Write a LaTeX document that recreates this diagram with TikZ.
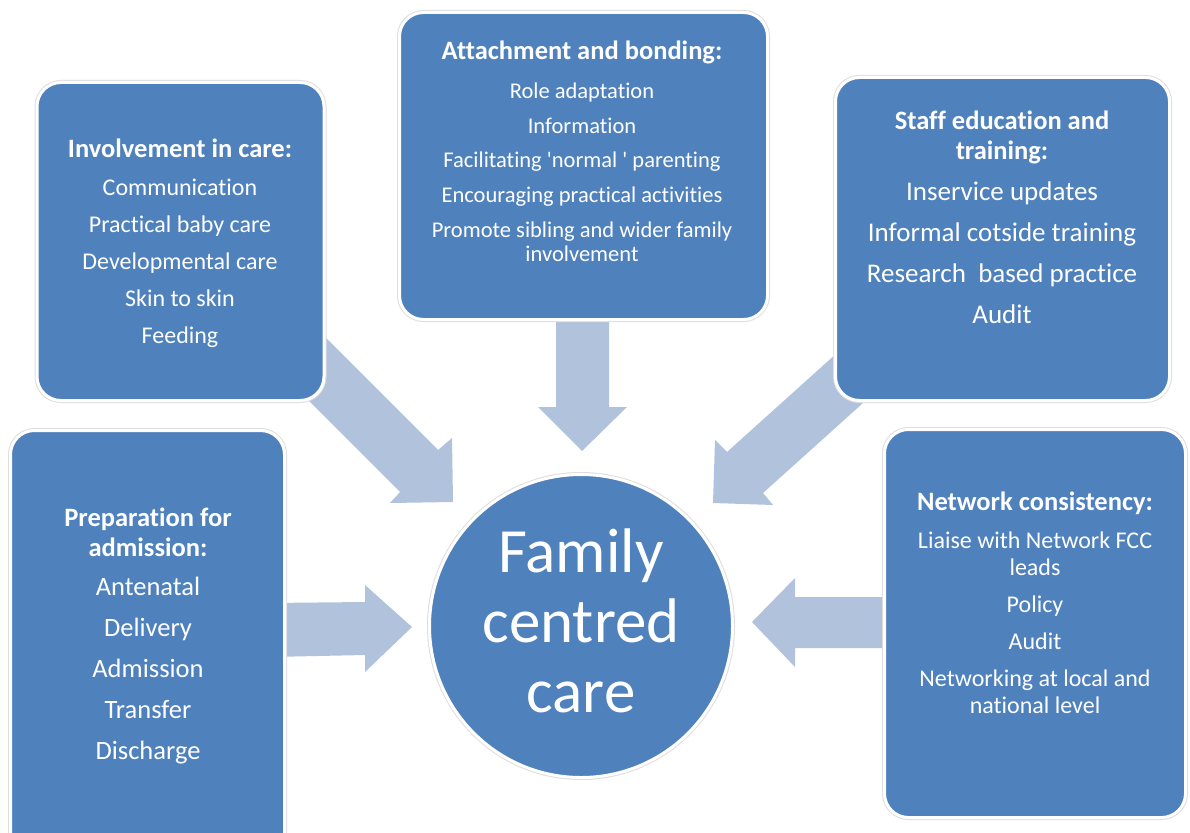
\documentclass[tikz,border=0pt]{standalone}
\usepackage{fontspec}
\setmainfont[Ligatures={TeX,NoCommon}]{Carlito}
\usepackage{tikz}
\definecolor{panelblue}{HTML}{4F81BD}
\definecolor{arrowblue}{HTML}{B1C2DD}

\begin{document}
\begin{tikzpicture}
  [x=1pt, y=-1pt,
   panel/.style={fill=panelblue, draw=white, line width=3pt, rounded corners=24pt,
     inner sep=0pt, preaction={draw=black!13, line width=5pt}},
   blockarrow/.style={fill=arrowblue, draw=none},
   title/.style={text=white, align=center, font=\bfseries\fontsize{#1}{30}\selectfont},
   items/.style 2 args={text=white, align=center, font=\fontsize{#1}{#2}\selectfont}]
  \useasboundingbox (0,0) rectangle (1190,832);
  \fill[white] (0,0) rectangle (1190,832);

  \fill[blockarrow] (308,320) -- (438,450) -- (452,438) -- (453,502) -- (390,503) -- (400,492) -- (270,362) -- cycle;
  \fill[blockarrow] (556,300) -- (556,407) -- (538,407) -- (582,451) -- (627,407) -- (609,407) -- (609,300) -- cycle;
  \fill[blockarrow] (857,335) -- (727,452) -- (715,440) -- (713,503) -- (773,505) -- (763,493) -- (893,376) -- cycle;
  \fill[blockarrow] (270,603) -- (365,602) -- (365,585) -- (412,627) -- (365,672) -- (365,655) -- (270,657) -- cycle;
  \fill[blockarrow] (900,597) -- (795,597) -- (795,578) -- (752,622) -- (795,667) -- (795,648) -- (900,648) -- cycle;

  \begin{scope}
    \clip (0,0) rectangle (1190,832);
    \node[panel, minimum width=287pt, minimum height=318pt] (involvement) at (180.5,241.5) {};
    \node[panel, minimum width=368pt, minimum height=307pt] (attachment) at (583.5,166) {};
    \node[panel, minimum width=334pt, minimum height=323pt] (staff) at (1002.5,239) {};
    \node[panel, minimum width=301pt, minimum height=388pt] (network) at (1035,623.5) {};
    \node[panel, minimum width=274pt, minimum height=427pt] (preparation) at (147.5,644) {};
    \node[panel, circle, minimum size=303pt] (fcc) at (581,626) {};
  \end{scope}
  \node[items={63}{70}] (fcctext) at (581,620.5) {Family\\centred\\care};

  \node[title=26.5] (involvementtitle) at (180,148) {Involvement in care:};
  \node[items={24}{29}] (involvementitems) at (180,263)
    {Communication\\[8pt] Practical baby care\\[8pt] Developmental care\\[8pt] Skin to skin\\[8pt] Feeding};

  \node[title=26.5] (attachmenttitle) at (582,52) {Attachment and bonding:};
  \node[items={22.5}{24}] (attachmentitems) at (582,172)
    {Role adaptation\\[11pt] Information\\[10pt] Facilitating \textquotesingle normal \textquotesingle{} parenting\\[11pt]
     Encouraging practical activities\\[11pt] Promote sibling and wider family\\ involvement};

  \node[title=26.5] (stafftitle) at (1002,137) {Staff education and\\ training:};
  \node[items={27}{32}] (staffitems) at (1002,253)
    {Inservice updates\\[9pt] Informal cotside training\\[9pt] Research\ \ based practice\\[9pt] Audit};

  \node[title=26.5] (networktitle) at (1035,503) {Network consistency:};
  \node[items={24}{27}] (networkitems) at (1035,623)
    {Liaise with Network FCC\\ leads\\[10pt] Policy\\[10pt] Audit\\[10pt] Networking at local and\\ national level};

  \node[title=26.5] (preparationtitle) at (148,532) {Preparation for\\ admission:};
  \node[items={26.5}{31}] (preparationitems) at (148,671)
    {Antenatal\\[10pt] Delivery\\[10pt] Admission\\[10pt] Transfer\\[10pt] Discharge};
\end{tikzpicture}
\end{document}
